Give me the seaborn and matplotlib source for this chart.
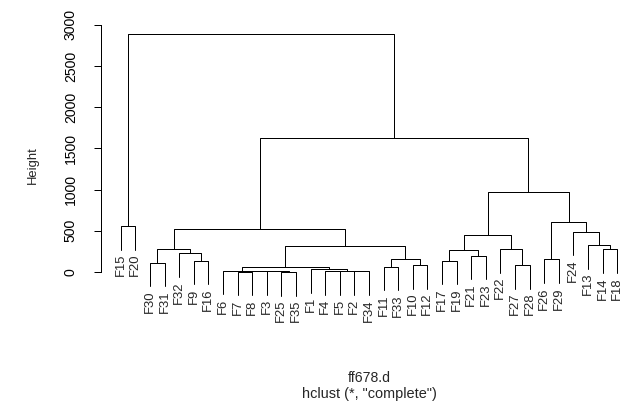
import matplotlib
matplotlib.use("Agg")
import matplotlib.pyplot as plt
import seaborn as sns
import pandas as pd

# leaf order as drawn, left to right
leaf_order = ["F15", "F20", "F30", "F31", "F32", "F9", "F16", "F6", "F7", "F8",
              "F3", "F25", "F35", "F1", "F4", "F5", "F2", "F34", "F11", "F33",
              "F10", "F12", "F17", "F19", "F21", "F23", "F22", "F27", "F28",
              "F26", "F29", "F24", "F13", "F14", "F18"]

# merge steps: a leaf name or the 1-based number of an earlier step, plus height
merge_left = ["F25", "F4", "F2", "F7", "F3", 2, 4, "F6", "F1", 8,
              "F11", "F10", 11, 10, "F30", "F9", "F32", 15, 18, "F15",
              "F17", "F21", 21, "F27", "F22", 23, "F26", "F14", "F13", "F24",
              27, 26, 19, 20]
merge_right = ["F35", "F5", "F34", "F8", 1, 3, 5, 7, 6, 9,
               "F33", "F12", 12, 13, "F31", "F16", 16, 17, 14, "F20",
               "F19", "F23", 22, "F28", 24, 25, "F29", "F18", 28, 29,
               30, 31, 32, 33]
merge_height = [3, 10, 8, 5, 8, 16, 12, 18, 36, 65,
                65, 85, 154, 316, 113, 138, 227, 276, 525, 560,
                137, 198, 267, 85, 279, 450, 154, 276, 328, 490,
                611, 968, 1628, 2890]

hang = 0.1 * (max(merge_height) - min(merge_height))


def main():
    sns.set_style("white")
    plt.rcParams['font.family'] = ['Liberation Sans', 'DejaVu Sans']

    leaf_x = {name: i + 1 for i, name in enumerate(leaf_order)}
    node_x, node_y = {}, {}
    rows = []
    seg = 0
    leaves_drawn = []

    def child(c, h):
        # position of a child node, leaves hang below the merge
        if isinstance(c, str):
            leaves_drawn.append((c, leaf_x[c], h - hang))
            return leaf_x[c], h - hang
        return node_x[c], node_y[c]

    for k, (a, b, h) in enumerate(zip(merge_left, merge_right, merge_height), start=1):
        xa, ya = child(a, h)
        xb, yb = child(b, h)
        for x, y in [(xa, ya), (xa, h), (xb, h), (xb, yb)]:
            rows.append({"x": x, "y": y, "seg": seg})
        seg += 1
        node_x[k] = (xa + xb) / 2
        node_y[k] = h

    df = pd.DataFrame(rows)

    fig = plt.figure(figsize=(629 / 72, 414 / 72), dpi=72)
    ax = fig.add_axes([0.1604, 0.2609, 0.8523, 0.6821])
    sns.lineplot(data=df, x="x", y="y", units="seg", estimator=None, sort=False,
                 color="black", linewidth=1.0, ax=ax, legend=False)

    for name, x, y in leaves_drawn:
        ax.annotate(name, (x, y), xytext=(0, -4), textcoords="offset points",
                    rotation=90, ha="center", va="top", fontsize=13)

    ax.set_xlim(-0.36, 36.36)
    ax.set_ylim(-413, 3017)
    ax.set_xticks([])
    ax.set_yticks([0, 500, 1000, 1500, 2000, 2500, 3000])
    ax.tick_params(axis="y", direction="out", length=7, width=1, pad=16,
                   labelsize=14, left=True, colors="black")
    for lab in ax.get_yticklabels():
        lab.set_rotation(90)
        lab.set_va("center")
    sns.despine(ax=ax, bottom=True, top=True, right=True)
    ax.spines["left"].set_bounds(0, 3000)
    ax.spines["left"].set_color("black")
    ax.spines["left"].set_linewidth(1)
    ax.set_xlabel("")
    ax.set_ylabel("Height", fontsize=13, labelpad=25)
    ax.patch.set_alpha(0)

    fig.text(369 / 629, 1 - 378 / 414, "ff678.d", ha="center", va="center", fontsize=14)
    fig.text(369 / 629, 1 - 394 / 414, 'hclust (*, "complete")', ha="center",
             va="center", fontsize=14.5)

    fig.savefig("out.png", dpi=72)
    plt.close(fig)


if __name__ == "__main__":
    main()
